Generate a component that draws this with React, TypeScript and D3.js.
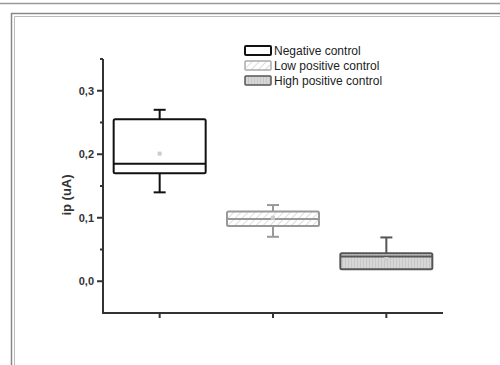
import React from 'react';
import * as d3 from 'd3';

const categories = ['Negative control', 'Low positive control', 'High positive control'];
const whiskerLow = [0.14, 0.07, 0.02];
const q1 = [0.17, 0.087, 0.019];
const median = [0.185, 0.098, 0.039];
const q3 = [0.255, 0.11, 0.044];
const whiskerHigh = [0.27, 0.12, 0.069];
const means = [0.201, 0.1, 0.035];
const majorTicks = [0, 0.1, 0.2, 0.3];
const minorTicks = [0.05, 0.15, 0.25, 0.35];
const tickLabels = ['0,0', '0,1', '0,2', '0,3'];

const W = 500, H = 365;
const axisLeft = 103, axisRight = 443, axisTop = 59, axisBottom = 313;

const x = d3.scaleLinear().domain([0.5, 3.5]).range([axisLeft, axisRight]);
const y = d3.scaleLinear().domain([-0.05, 0.35]).range([axisBottom, axisTop]);

const boxStroke = ['#111', '#999', '#555'];
const boxFill = ['#fff', 'url(#hatch)', 'url(#grid)'];

export default function App() {
  const boxW = 92;
  const capW = 12;
  const font = '"Liberation Sans", Arial, sans-serif';

  return (
    <svg width={W} height={H} style={{ position: 'absolute', left: 0, top: 0 }} fontFamily={font}>
      <defs>
        <pattern id="hatch" width="5" height="5" patternUnits="userSpaceOnUse" patternTransform="rotate(45)">
          <rect width="5" height="5" fill="#fff" />
          <line x1="0" y1="0" x2="0" y2="5" stroke="#ddd" strokeWidth="2" />
        </pattern>
        <pattern id="grid" width="3" height="3" patternUnits="userSpaceOnUse">
          <rect width="3" height="3" fill="#d6d6d6" />
          <line x1="0" y1="0" x2="0" y2="3" stroke="#bbb" strokeWidth="1" />
        </pattern>
      </defs>
      <rect width={W} height={H} fill="#fff" />

      {/* page frame */}
      <line x1={0} x2={W} y1={3.5} y2={3.5} stroke="#999" strokeWidth={1.5} />
      <path d={`M11.5,${H} V13.5 H${W}`} fill="none" stroke="#888" strokeWidth={1.5} />
      <path d={`M14.5,${H} V16.5 H${W}`} fill="none" stroke="#bbb" strokeWidth={1} />

      {/* axes */}
      <line x1={axisLeft} x2={axisLeft} y1={axisTop} y2={axisBottom + 1} stroke="#333" strokeWidth={2} />
      <line x1={axisLeft - 1} x2={axisRight} y1={axisBottom} y2={axisBottom} stroke="#333" strokeWidth={2} />
      {majorTicks.map((t, i) => (
        <g key={'mj' + i}>
          <line x1={axisLeft - 6} x2={axisLeft} y1={y(t)} y2={y(t)} stroke="#333" strokeWidth={2} />
          <text x={axisLeft - 9} y={y(t)} dy="0.35em" textAnchor="end" fontSize={11} fontWeight="bold" fill="#333">
            {tickLabels[i]}
          </text>
        </g>
      ))}
      {minorTicks.map((t, i) => (
        <line key={'mn' + i} x1={axisLeft - 3} x2={axisLeft} y1={y(t)} y2={y(t)} stroke="#333" strokeWidth={2} />
      ))}
      {categories.map((c, i) => (
        <line key={'xt' + i} x1={x(i + 1)} x2={x(i + 1)} y1={axisBottom} y2={axisBottom + 5} stroke="#333" strokeWidth={2} />
      ))}
      <text
        transform={`translate(${66},${195}) rotate(-90)`}
        textAnchor="middle"
        dy="0.35em"
        fontSize={13}
        fontWeight="bold"
        fill="#333"
      >
        ip (uA)
      </text>

      {/* boxes */}
      {categories.map((c, i) => {
        const cx = x(i + 1);
        const s = boxStroke[i];
        return (
          <g key={'box' + i}>
            <line x1={cx} x2={cx} y1={y(whiskerHigh[i])} y2={y(q3[i])} stroke={s} strokeWidth={2} />
            <line x1={cx} x2={cx} y1={y(q1[i])} y2={y(whiskerLow[i])} stroke={s} strokeWidth={2} />
            <line x1={cx - capW / 2} x2={cx + capW / 2} y1={y(whiskerHigh[i])} y2={y(whiskerHigh[i])} stroke={s} strokeWidth={2} />
            <line x1={cx - capW / 2} x2={cx + capW / 2} y1={y(whiskerLow[i])} y2={y(whiskerLow[i])} stroke={s} strokeWidth={2} />
            <rect
              x={cx - boxW / 2}
              y={y(q3[i])}
              width={boxW}
              height={y(q1[i]) - y(q3[i])}
              fill={boxFill[i]}
              stroke={s}
              strokeWidth={2}
              rx={1.5}
            />
            <line x1={cx - boxW / 2} x2={cx + boxW / 2} y1={y(median[i])} y2={y(median[i])} stroke={s} strokeWidth={2} />
            <rect x={cx - 2} y={y(means[i]) - 2} width={4} height={4} fill="#ccc" />
          </g>
        );
      })}

      {/* legend */}
      {categories.map((c, i) => (
        <g key={'lg' + i} transform={`translate(245,${46 + i * 15})`}>
          <rect x={0} y={0} width={26} height={9} fill={boxFill[i]} stroke={i === 1 ? '#aaa' : boxStroke[i]} strokeWidth={i === 0 ? 2 : 1.5} rx={1} />
          <text x={29} y={9} fontSize={12} fill="#222">
            {c}
          </text>
        </g>
      ))}
    </svg>
  );
}
